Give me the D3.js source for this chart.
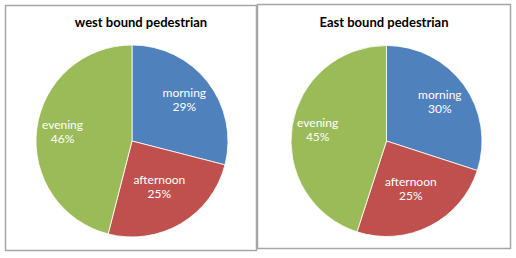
<!DOCTYPE html>
<html><head><meta charset="utf-8">
<script src="https://cdn.jsdelivr.net/npm/d3@7"></script>
<style>body{margin:0;background:#fff}svg{display:block}</style>
</head><body>
<svg id="c" width="516" height="258"></svg>
<script>
const categories = ["morning", "afternoon", "evening"];
const westValues = [29, 25, 46];
const eastValues = [30, 25, 45];
const titles = ["west bound pedestrian", "East bound pedestrian"];
const colors = ["#4F81BD", "#C0504D", "#9BBB59"];

const svg = d3.select("#c");
svg.append("rect").attr("width",516).attr("height",258).attr("fill","#fff");

const panels = [
  {x:5.5, y:5.5, w:251, h:245, cx:132, cy:141, r:96, title:titles[0], tx:141, values:westValues},
  {x:257.5, y:4.5, w:253, h:244, cx:386.5, cy:141, r:95.5, title:titles[1], tx:384, values:eastValues}
];
// label placement factor per slice (approximating Excel "best fit")
const labelFactor = {morning:0.69, afternoon:0.56, evening:0.73};

const pie = d3.pie().sort(null).value(d=>d.v);
const color = d3.scaleOrdinal().domain(categories).range(colors);

panels.forEach(p=>{
  svg.append("rect").attr("x",p.x).attr("y",p.y).attr("width",p.w).attr("height",p.h)
    .attr("fill","none").attr("stroke","#a6a6a6").attr("stroke-width",1.5);
  svg.append("text").attr("x",p.tx).attr("y",27).attr("text-anchor","middle")
    .attr("font-family","Lato, 'Open Sans', sans-serif").attr("font-weight","bold")
    .attr("font-size",13).attr("fill","#000").text(p.title);
  const g = svg.append("g").attr("transform",`translate(${p.cx},${p.cy})`);
  const data = pie(categories.map((c,i)=>({c, v:p.values[i]})));
  const arc = d3.arc().innerRadius(0).outerRadius(p.r);
  g.selectAll("path").data(data).join("path")
    .attr("d",arc).attr("fill",d=>color(d.data.c)).attr("stroke","#fff").attr("stroke-width",0.8);
  const t = g.selectAll("text.l").data(data).join("text").attr("class","l")
    .attr("transform",d=>{
      const rr = p.r*labelFactor[d.data.c];
      return `translate(${d3.arc().innerRadius(rr).outerRadius(rr).centroid(d)})`;
    })
    .attr("text-anchor","middle").attr("font-family","Lato, 'Open Sans', sans-serif")
    .attr("font-size",12).attr("fill","#fff");
  t.append("tspan").attr("x",0).attr("y",-3).text(d=>d.data.c);
  t.append("tspan").attr("x",0).attr("y",11).text(d=>d.data.v+"%");
});
</script>
</body></html>
